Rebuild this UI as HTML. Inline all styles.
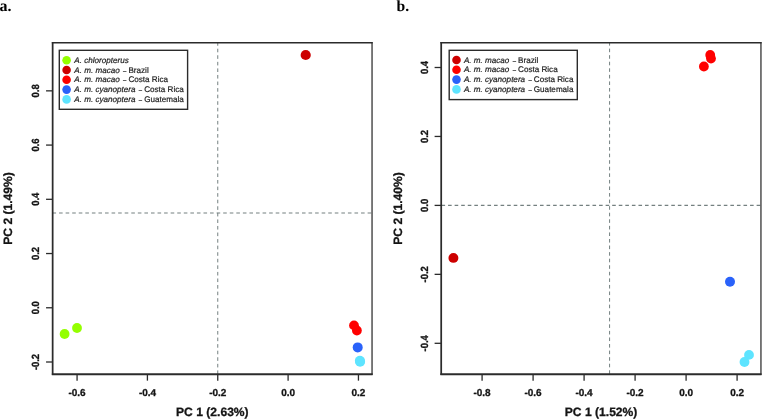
<!DOCTYPE html>
<html><head><meta charset="utf-8"><style>
html,body{margin:0;padding:0;background:#fff;}
svg{display:block;}
text{text-rendering:geometricPrecision;}
.tk{font-family:"Liberation Sans",Arial,sans-serif;font-weight:bold;font-size:10.0px;fill:#141414;stroke:#141414;stroke-width:0.3px;letter-spacing:-0.05px;}
.ti{font-family:"Liberation Sans",Arial,sans-serif;font-weight:bold;font-size:12.1px;fill:#141414;stroke:#141414;stroke-width:0.3px;}
.lg{font-family:"Liberation Sans",Arial,sans-serif;font-size:8.1px;fill:#1e1e1e;stroke:#1e1e1e;stroke-width:0.2px;}
.pl{font-family:"Liberation Serif","Times New Roman",serif;font-weight:bold;font-size:16px;fill:#000;}
</style></head><body>
<svg width="762" height="419" viewBox="0 0 762 419">
<rect width="762" height="419" fill="#fff"/>
<text class="pl" x="-0.6" y="11.4">a.</text>
<text class="pl" x="396.6" y="11.1" style="font-size:15.6px">b.</text>
<line x1="217.75" y1="42.14" x2="217.75" y2="374.25" stroke="rgb(116,128,128)" stroke-width="1" stroke-dasharray="3.6,2.965"/>
<line x1="52.49" y1="213.0" x2="372.04" y2="213.0" stroke="rgb(116,128,128)" stroke-width="1.2" stroke-dasharray="3.6,2.965"/>
<circle cx="305.7" cy="55" r="5.1" fill="#CD0000"/>
<circle cx="64.6" cy="334" r="4.9" fill="#94FF00"/>
<circle cx="77" cy="328" r="4.9" fill="#94FF00"/>
<circle cx="354.0" cy="325.4" r="4.9" fill="#FF0000"/>
<circle cx="356.9" cy="330.5" r="4.9" fill="#FF0000"/>
<circle cx="357.7" cy="347.4" r="5.0" fill="#2A62FA"/>
<circle cx="359.9" cy="360.7" r="5.0" fill="#5EE4FF"/>
<circle cx="360.1" cy="361.7" r="5.0" fill="#5EE4FF"/>
<line x1="52.65" y1="41.95" x2="52.65" y2="375.0" stroke="#2b2b2b" stroke-width="1.75"/>
<line x1="51.85" y1="42.7" x2="372.64000000000004" y2="42.7" stroke="#2b2b2b" stroke-width="1.55"/>
<line x1="51.85" y1="374.25" x2="372.64000000000004" y2="374.25" stroke="#2b2b2b" stroke-width="1.8"/>
<line x1="372.04" y1="41.95" x2="372.04" y2="375.0" stroke="#2b2b2b" stroke-width="1.25"/>
<line x1="46.05" y1="90.85" x2="52.65" y2="90.85" stroke="#2b2b2b" stroke-width="1.3"/>
<text class="tk" transform="translate(39.3,90.85) rotate(-90) scale(0.95,1.04)" text-anchor="middle">0.8</text>
<line x1="46.05" y1="145.08" x2="52.65" y2="145.08" stroke="#2b2b2b" stroke-width="1.3"/>
<text class="tk" transform="translate(39.3,145.08) rotate(-90) scale(0.95,1.04)" text-anchor="middle">0.6</text>
<line x1="46.05" y1="199.31" x2="52.65" y2="199.31" stroke="#2b2b2b" stroke-width="1.3"/>
<text class="tk" transform="translate(39.3,199.31) rotate(-90) scale(0.95,1.04)" text-anchor="middle">0.4</text>
<line x1="46.05" y1="253.54" x2="52.65" y2="253.54" stroke="#2b2b2b" stroke-width="1.3"/>
<text class="tk" transform="translate(39.3,253.54) rotate(-90) scale(0.95,1.04)" text-anchor="middle">0.2</text>
<line x1="46.05" y1="307.77" x2="52.65" y2="307.77" stroke="#2b2b2b" stroke-width="1.3"/>
<text class="tk" transform="translate(39.3,307.77) rotate(-90) scale(0.95,1.04)" text-anchor="middle">0.0</text>
<line x1="46.05" y1="362.0" x2="52.65" y2="362.0" stroke="#2b2b2b" stroke-width="1.3"/>
<text class="tk" transform="translate(39.3,362.0) rotate(-90) scale(0.95,1.04)" text-anchor="middle">-0.2</text>
<line x1="77.07" y1="374.25" x2="77.07" y2="380.65" stroke="#2b2b2b" stroke-width="1.3"/>
<text class="tk" x="77.07" y="395.6" text-anchor="middle">-0.6</text>
<line x1="147.41" y1="374.25" x2="147.41" y2="380.65" stroke="#2b2b2b" stroke-width="1.3"/>
<text class="tk" x="147.41" y="395.6" text-anchor="middle">-0.4</text>
<line x1="217.75" y1="374.25" x2="217.75" y2="380.65" stroke="#2b2b2b" stroke-width="1.3"/>
<text class="tk" x="217.75" y="395.6" text-anchor="middle">-0.2</text>
<line x1="288.1" y1="374.25" x2="288.1" y2="380.65" stroke="#2b2b2b" stroke-width="1.3"/>
<text class="tk" x="288.1" y="395.6" text-anchor="middle">0.0</text>
<line x1="358.44" y1="374.25" x2="358.44" y2="380.65" stroke="#2b2b2b" stroke-width="1.3"/>
<text class="tk" x="358.44" y="395.6" text-anchor="middle">0.2</text>
<text class="ti" x="212.345" y="416.3" text-anchor="middle">PC 1 (2.63%)</text>
<text class="ti" transform="translate(12,208.475) rotate(-90)" text-anchor="middle">PC 2 (1.49%)</text>
<rect x="59.3" y="50.3" width="128.3" height="59.0" fill="#fff" stroke="#2b2b2b" stroke-width="1.4"/>
<circle cx="66.6" cy="60.2" r="4.3" fill="#94FF00"/>
<text class="lg" x="74.3" y="62.60"><tspan font-style="italic">A. chloropterus </tspan></text>
<circle cx="66.6" cy="70.0" r="4.3" fill="#CD0000"/>
<text class="lg" x="74.3" y="72.90"><tspan font-style="italic">A. m. macao </tspan><tspan dx="1.1" font-size="6">–</tspan><tspan dx="-0.2"> Brazil</tspan></text>
<circle cx="66.6" cy="79.8" r="4.3" fill="#FF0000"/>
<text class="lg" x="74.3" y="82.20"><tspan font-style="italic">A. m. macao </tspan><tspan dx="1.1" font-size="6">–</tspan><tspan dx="-0.2"> Costa Rica</tspan></text>
<circle cx="66.6" cy="89.6" r="4.3" fill="#2A62FA"/>
<text class="lg" x="74.3" y="92.00"><tspan font-style="italic">A. m. cyanoptera </tspan><tspan dx="1.1" font-size="6">–</tspan><tspan dx="-0.2"> Costa Rica</tspan></text>
<circle cx="66.6" cy="99.4" r="4.3" fill="#5EE4FF"/>
<text class="lg" x="74.3" y="101.80"><tspan font-style="italic">A. m. cyanoptera </tspan><tspan dx="1.1" font-size="6">–</tspan><tspan dx="-0.2"> Guatemala</tspan></text>
<line x1="609.59" y1="42.03" x2="609.59" y2="374.25" stroke="rgb(116,128,128)" stroke-width="1" stroke-dasharray="3.6,2.965"/>
<line x1="441.5" y1="205.45" x2="760.95" y2="205.45" stroke="rgb(116,128,128)" stroke-width="1.2" stroke-dasharray="3.6,2.965"/>
<circle cx="453.4" cy="257.9" r="4.95" fill="#CD0000"/>
<circle cx="710.2" cy="55" r="4.9" fill="#FF0000"/>
<circle cx="711" cy="58.6" r="4.9" fill="#FF0000"/>
<circle cx="703.9" cy="66.5" r="4.9" fill="#FF0000"/>
<circle cx="730" cy="281.8" r="5" fill="#2A62FA"/>
<circle cx="749" cy="354.9" r="4.9" fill="#5EE4FF"/>
<circle cx="744.5" cy="361.95" r="4.95" fill="#5EE4FF"/>
<line x1="441.2" y1="41.95" x2="441.2" y2="375.0" stroke="#2b2b2b" stroke-width="1.75"/>
<line x1="440.4" y1="42.7" x2="761.5500000000001" y2="42.7" stroke="#2b2b2b" stroke-width="1.55"/>
<line x1="440.4" y1="374.25" x2="761.5500000000001" y2="374.25" stroke="#2b2b2b" stroke-width="1.8"/>
<line x1="760.95" y1="41.95" x2="760.95" y2="375.0" stroke="#2b2b2b" stroke-width="1.25"/>
<line x1="434.59999999999997" y1="67.5" x2="441.2" y2="67.5" stroke="#2b2b2b" stroke-width="1.3"/>
<text class="tk" transform="translate(428.2,67.5) rotate(-90) scale(0.95,1.04)" text-anchor="middle">0.4</text>
<line x1="434.59999999999997" y1="136.45" x2="441.2" y2="136.45" stroke="#2b2b2b" stroke-width="1.3"/>
<text class="tk" transform="translate(428.2,136.45) rotate(-90) scale(0.95,1.04)" text-anchor="middle">0.2</text>
<line x1="434.59999999999997" y1="205.4" x2="441.2" y2="205.4" stroke="#2b2b2b" stroke-width="1.3"/>
<text class="tk" transform="translate(428.2,205.4) rotate(-90) scale(0.95,1.04)" text-anchor="middle">0.0</text>
<line x1="434.59999999999997" y1="274.35" x2="441.2" y2="274.35" stroke="#2b2b2b" stroke-width="1.3"/>
<text class="tk" transform="translate(428.2,274.35) rotate(-90) scale(0.95,1.04)" text-anchor="middle">-0.2</text>
<line x1="434.59999999999997" y1="343.3" x2="441.2" y2="343.3" stroke="#2b2b2b" stroke-width="1.3"/>
<text class="tk" transform="translate(428.2,343.3) rotate(-90) scale(0.95,1.04)" text-anchor="middle">-0.4</text>
<line x1="482.09" y1="374.25" x2="482.09" y2="380.65" stroke="#2b2b2b" stroke-width="1.3"/>
<text class="tk" x="482.09" y="395.6" text-anchor="middle">-0.8</text>
<line x1="533.09" y1="374.25" x2="533.09" y2="380.65" stroke="#2b2b2b" stroke-width="1.3"/>
<text class="tk" x="533.09" y="395.6" text-anchor="middle">-0.6</text>
<line x1="584.09" y1="374.25" x2="584.09" y2="380.65" stroke="#2b2b2b" stroke-width="1.3"/>
<text class="tk" x="584.09" y="395.6" text-anchor="middle">-0.4</text>
<line x1="635.09" y1="374.25" x2="635.09" y2="380.65" stroke="#2b2b2b" stroke-width="1.3"/>
<text class="tk" x="635.09" y="395.6" text-anchor="middle">-0.2</text>
<line x1="686.09" y1="374.25" x2="686.09" y2="380.65" stroke="#2b2b2b" stroke-width="1.3"/>
<text class="tk" x="686.09" y="395.6" text-anchor="middle">0.0</text>
<line x1="737.09" y1="374.25" x2="737.09" y2="380.65" stroke="#2b2b2b" stroke-width="1.3"/>
<text class="tk" x="737.09" y="395.6" text-anchor="middle">0.2</text>
<text class="ti" x="601.075" y="416.3" text-anchor="middle">PC 1 (1.52%)</text>
<text class="ti" transform="translate(401.5,208.475) rotate(-90)" text-anchor="middle">PC 2 (1.40%)</text>
<rect x="449.2" y="50.3" width="128.09999999999997" height="49.3" fill="#fff" stroke="#2b2b2b" stroke-width="1.4"/>
<circle cx="456.5" cy="60.0" r="4.3" fill="#CD0000"/>
<text class="lg" x="463.9" y="62.90"><tspan font-style="italic">A. m. macao </tspan><tspan dx="1.1" font-size="6">–</tspan><tspan dx="-0.2"> Brazil</tspan></text>
<circle cx="456.5" cy="69.8" r="4.3" fill="#FF0000"/>
<text class="lg" x="463.9" y="72.20"><tspan font-style="italic">A. m. macao </tspan><tspan dx="1.1" font-size="6">–</tspan><tspan dx="-0.2"> Costa Rica</tspan></text>
<circle cx="456.5" cy="79.6" r="4.3" fill="#2A62FA"/>
<text class="lg" x="463.9" y="82.00"><tspan font-style="italic">A. m. cyanoptera </tspan><tspan dx="1.1" font-size="6">–</tspan><tspan dx="-0.2"> Costa Rica</tspan></text>
<circle cx="456.5" cy="89.4" r="4.3" fill="#5EE4FF"/>
<text class="lg" x="463.9" y="91.80"><tspan font-style="italic">A. m. cyanoptera </tspan><tspan dx="1.1" font-size="6">–</tspan><tspan dx="-0.2"> Guatemala</tspan></text>
</svg>
</body></html>
